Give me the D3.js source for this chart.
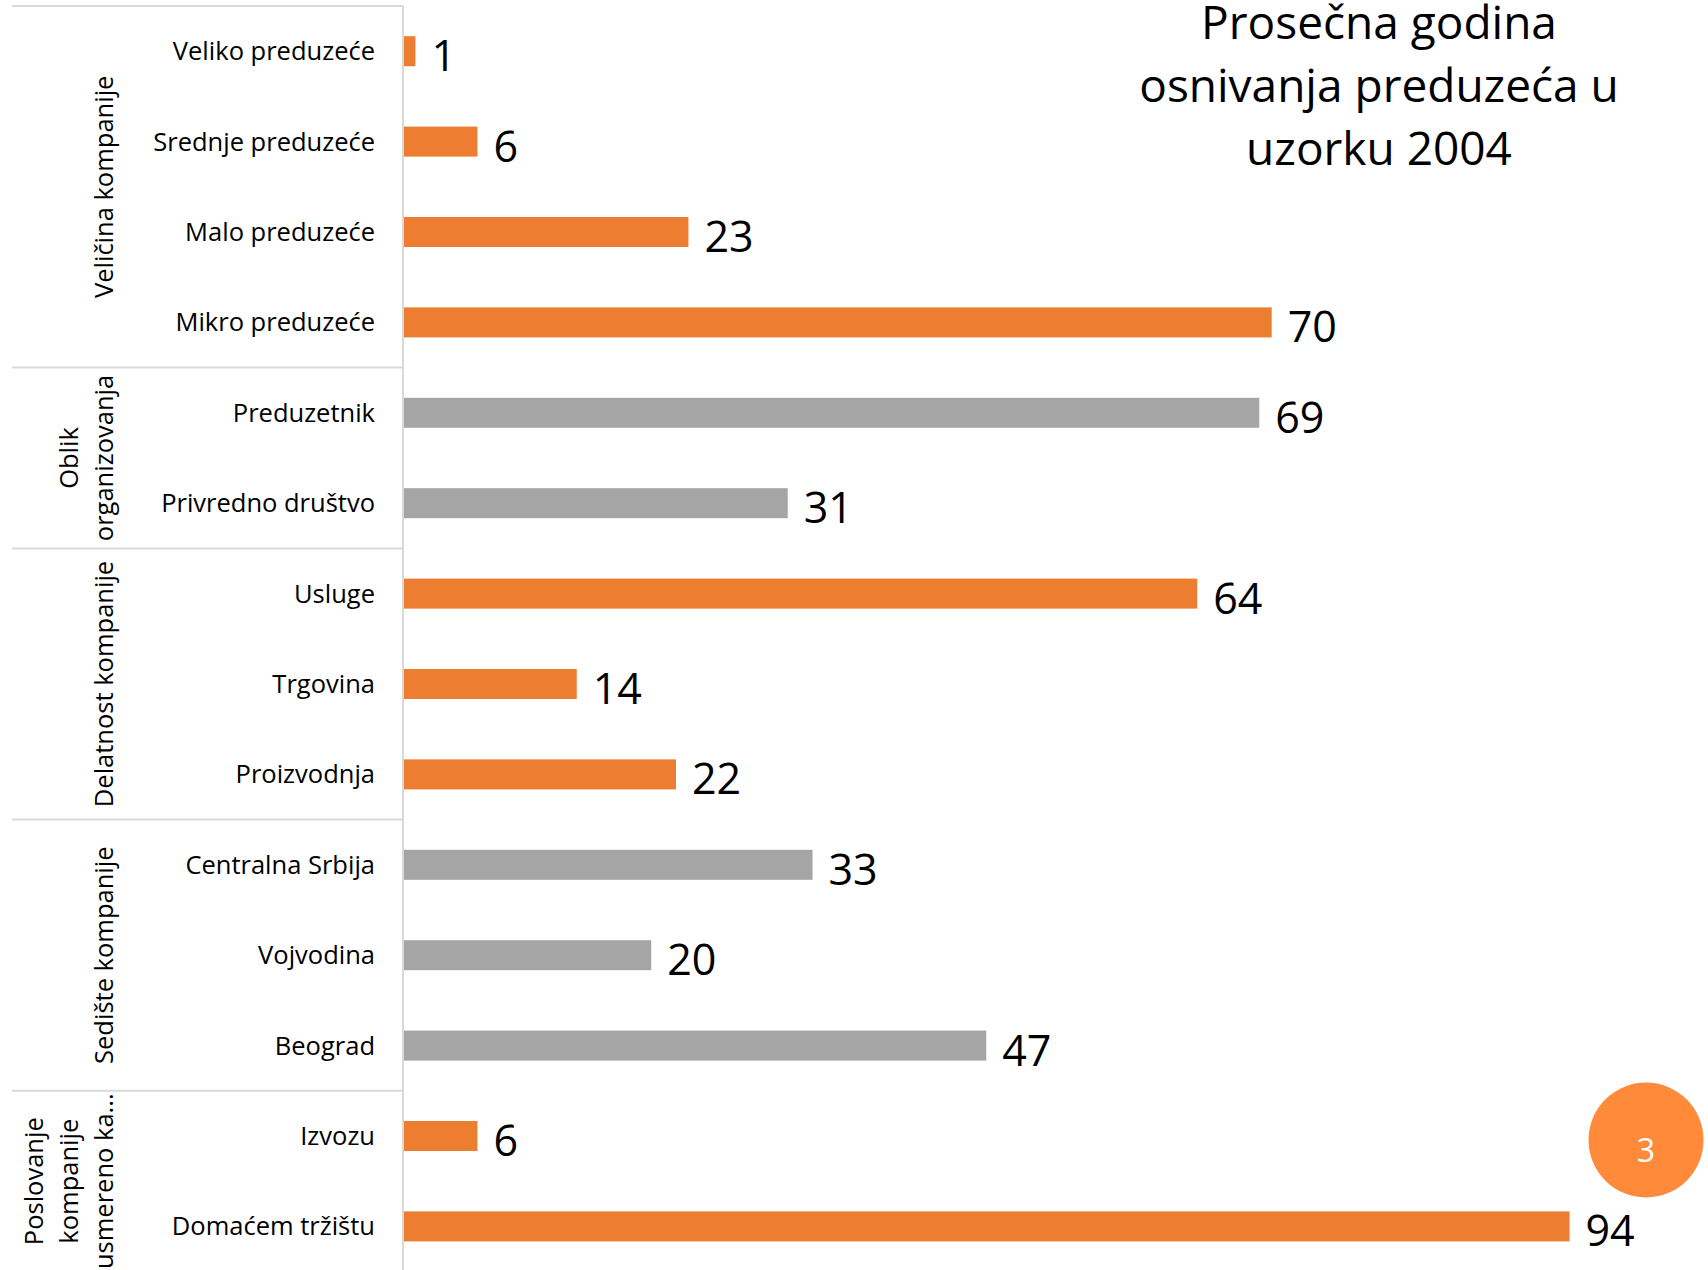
<!DOCTYPE html>
<html>
<head>
<meta charset="utf-8">
<script src="https://cdn.jsdelivr.net/npm/d3@7"></script>
<style>
  html, body { margin: 0; padding: 0; background: #fff; }
  svg { display: block; }
  text { font-family: "Open Sans", "DejaVu Sans", sans-serif; }
</style>
</head>
<body>
<svg id="chart" width="1708" height="1270"></svg>
<script>
// ---- data ----
const categories = [
  "Veliko preduzeće", "Srednje preduzeće", "Malo preduzeće", "Mikro preduzeće",
  "Preduzetnik", "Privredno društvo",
  "Usluge", "Trgovina", "Proizvodnja",
  "Centralna Srbija", "Vojvodina", "Beograd",
  "Izvozu", "Domaćem tržištu"
];
const values = [1, 6, 23, 70, 69, 31, 64, 14, 22, 33, 20, 47, 6, 94];
const groupNames = [
  ["Veličina kompanije"],
  ["Oblik", "organizovanja"],
  ["Delatnost kompanije"],
  ["Sedište kompanije"],
  ["Poslovanje", "kompanije", "usmereno ka..."]
];
const groupSizes = [4, 2, 3, 3, 2];
const groupColors = ["#ED7D31", "#A5A5A5", "#ED7D31", "#A5A5A5", "#ED7D31"];
const titleLines = ["Prosečna godina", "osnivanja preduzeća u", "uzorku 2004"];
const pageNumber = "3";

// ---- layout ----
const W = 1708, H = 1270;
const axisX = 403, plotTop = 6, step = 90.4;
const plotBottom = plotTop + step * categories.length;

const svg = d3.select("#chart");

const y = d3.scaleBand()
  .domain(d3.range(categories.length))
  .range([plotTop, plotBottom])
  .paddingInner(0.668)
  .paddingOuter(0.334);

const x = d3.scaleLinear().domain([0, 100]).range([axisX, axisX + 1241]);

// group index for each category
const groupOf = [];
groupSizes.forEach((s, g) => { for (let i = 0; i < s; i++) groupOf.push(g); });

// clip to canvas
svg.append("defs").append("clipPath").attr("id", "clip")
  .append("rect").attr("x", 0).attr("y", 0).attr("width", W).attr("height", H);
const root = svg.append("g").attr("clip-path", "url(#clip)");

// separators
const boundaries = [0];
groupSizes.reduce((acc, s) => { acc += s; boundaries.push(acc); return acc; }, 0);
root.selectAll("line.sep").data(boundaries).join("line")
  .attr("class", "sep")
  .attr("x1", 12).attr("x2", axisX)
  .attr("y1", d => plotTop + d * step).attr("y2", d => plotTop + d * step)
  .attr("stroke", "#D9D9D9").attr("stroke-width", 2);

// vertical axis line
root.append("line")
  .attr("x1", axisX).attr("x2", axisX)
  .attr("y1", plotTop).attr("y2", plotBottom)
  .attr("stroke", "#D9D9D9").attr("stroke-width", 2);

// bars
root.selectAll("rect.bar").data(values).join("rect")
  .attr("class", "bar")
  .attr("x", x(0) + 1)
  .attr("y", (d, i) => y(i))
  .attr("width", d => x(d) - x(0) - 1)
  .attr("height", y.bandwidth())
  .attr("fill", (d, i) => groupColors[groupOf[i]]);

// value labels
root.selectAll("text.val").data(values).join("text")
  .attr("class", "val")
  .attr("x", d => x(d) + 16)
  .attr("y", (d, i) => y(i) + y.bandwidth() / 2 + 20)
  .attr("font-size", 43)
  .attr("fill", "#000")
  .text(d => d);

// category labels
root.selectAll("text.cat").data(categories).join("text")
  .attr("class", "cat")
  .attr("x", 375)
  .attr("y", (d, i) => y(i) + y.bandwidth() / 2 + 9)
  .attr("text-anchor", "end")
  .attr("font-size", 25.5)
  .attr("fill", "#000")
  .text(d => d);

// group labels (rotated)
const lineGap = 35;
groupNames.forEach((lines, g) => {
  const cy = plotTop + step * (boundaries[g] + boundaries[g + 1]) / 2;
  const n = lines.length;
  lines.forEach((t, k) => {
    const bx = 113 - (n - 1 - k) * lineGap;
    root.append("text")
      .attr("transform", `translate(${bx},${cy}) rotate(-90)`)
      .attr("text-anchor", "middle")
      .attr("font-size", 25.5)
      .attr("fill", "#000")
      .text(t);
  });
});

// title
root.selectAll("text.title").data(titleLines).join("text")
  .attr("class", "title")
  .attr("x", 1379)
  .attr("y", (d, i) => 39 + i * 63)
  .attr("text-anchor", "middle")
  .attr("font-size", 46)
  .attr("fill", "#000")
  .text(d => d);

// page number badge
root.append("circle")
  .attr("cx", 1646).attr("cy", 1140).attr("r", 57.5)
  .attr("fill", "#FF8A3A");
root.append("text")
  .attr("x", 1646).attr("y", 1162)
  .attr("text-anchor", "middle")
  .attr("font-size", 32)
  .attr("fill", "#fff")
  .text(pageNumber);
</script>
</body>
</html>
